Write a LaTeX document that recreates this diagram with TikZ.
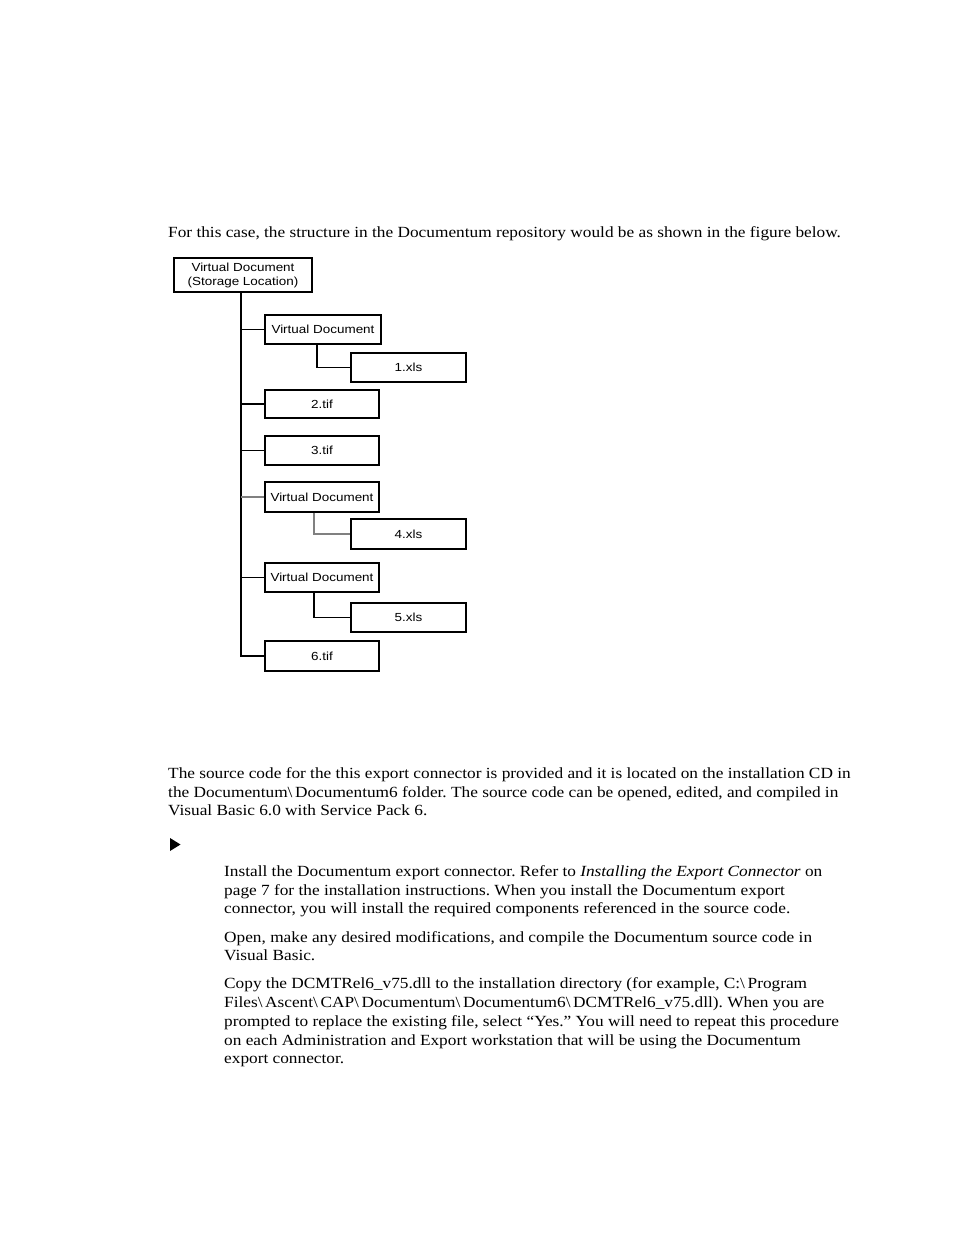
\documentclass[tikz,border=0pt]{standalone}
\usepackage{fontspec}
\setmainfont{Liberation Serif}[FakeStretch=1.115]
\newfontfamily\diagfont{Liberation Sans}[FakeStretch=1.15]
\newcommand\bsl{\textbackslash}
\frenchspacing
\begin{document}
\begin{tikzpicture}[x=1bp,y=-1bp,
  box/.style={draw,line width=1.2bp,inner sep=0pt,minimum width=114bp,minimum height=29bp,font=\diagfont\fontsize{11.7bp}{13bp}\selectfont},
  ln/.style={line width=1.2bp},
  gln/.style={line width=1.2bp,draw=black!50},
  body/.style={anchor=base west,inner sep=0pt,font=\fontsize{15.5bp}{18bp}\selectfont}]
\useasboundingbox (0,0) rectangle (954,1235);
\fill[white] (0,0) rectangle (954,1235);
% intro text
\node[body] (intro) at (168,237) {For this case, the structure in the Documentum repository would be as shown in the figure below.};
% diagram
\node[box,minimum width=138bp,minimum height=34bp,align=center] (root) at (243,275) {Virtual Document\\[1bp](Storage Location)};
\node[box,minimum width=116bp] (vd1) at (323,329.5) {Virtual Document};
\node[box,minimum width=115bp] (x1) at (408.5,367.5) {1.xls};
\node[box,minimum height=28bp] (t2) at (322,404) {2.tif};
\node[box] (t3) at (322,450.5) {3.tif};
\node[box,minimum height=30bp] (vd2) at (322,497) {Virtual Document};
\node[box,minimum width=115bp,minimum height=30bp] (x4) at (408.5,534) {4.xls};
\node[box] (vd3) at (322,577.5) {Virtual Document};
\node[box,minimum width=115bp] (x5) at (408.5,617.5) {5.xls};
\node[box,minimum height=30bp] (t6) at (322,656) {6.tif};
\coordinate (trunk) at (241,292);
\draw[ln] (trunk) |- (t6.west);
\draw[ln] (vd1.west) -- (vd1.west -| trunk);
\draw[ln] (t2.west) -- (t2.west -| trunk);
\draw[ln] (t3.west) -- (t3.west -| trunk);
\draw[gln] (vd2.west) -- (vd2.west -| trunk);
\draw[ln] (vd3.west) -- (vd3.west -| trunk);
\draw[ln] ([xshift=-6bp]vd1.south) |- (x1.west);
\draw[gln] ([xshift=-8bp]vd2.south) |- (x4.west);
\draw[ln] ([xshift=-8bp]vd3.south) |- (x5.west);
% body text
\node[body] (p1) at (168,778) {The source code for the this export connector is provided and it is located on the installation CD in};
\node[body] (p2) at (168,797) {the Documentum\bsl\,Documentum6 folder. The source code can be opened, edited, and compiled in};
\node[body] (p3) at (168,815) {Visual Basic 6.0 with Service Pack 6.};
\fill (170,838) -- (180.5,844.5) -- (170,851) -- cycle;
\node[body] (a1) at (224,876) {Install the Documentum export connector. Refer to \textit{Installing the Export Connector} on};
\node[body] (a2) at (224,895) {page 7 for the installation instructions. When you install the Documentum export};
\node[body] (a3) at (224,913) {connector, you will install the required components referenced in the source code.};
\node[body] (b1) at (224,942) {Open, make any desired modifications, and compile the Documentum source code in};
\node[body] (b2) at (224,960) {Visual Basic.};
\node[body] (c1) at (224,988) {Copy the DCMTRel6\_v75.dll to the installation directory (for example, C:\bsl\,Program};
\node[body] (c2) at (224,1007) {Files\bsl\,Ascent\bsl\,CAP\bsl\,Documentum\bsl\,Documentum6\bsl\,DCMTRel6\_v75.dll). When you are};
\node[body] (c3) at (224,1026) {prompted to replace the existing file, select “Yes.” You will need to repeat this procedure};
\node[body] (c4) at (224,1045) {on each Administration and Export workstation that will be using the Documentum};
\node[body] (c5) at (224,1063) {export connector.};
\end{tikzpicture}
\end{document}
